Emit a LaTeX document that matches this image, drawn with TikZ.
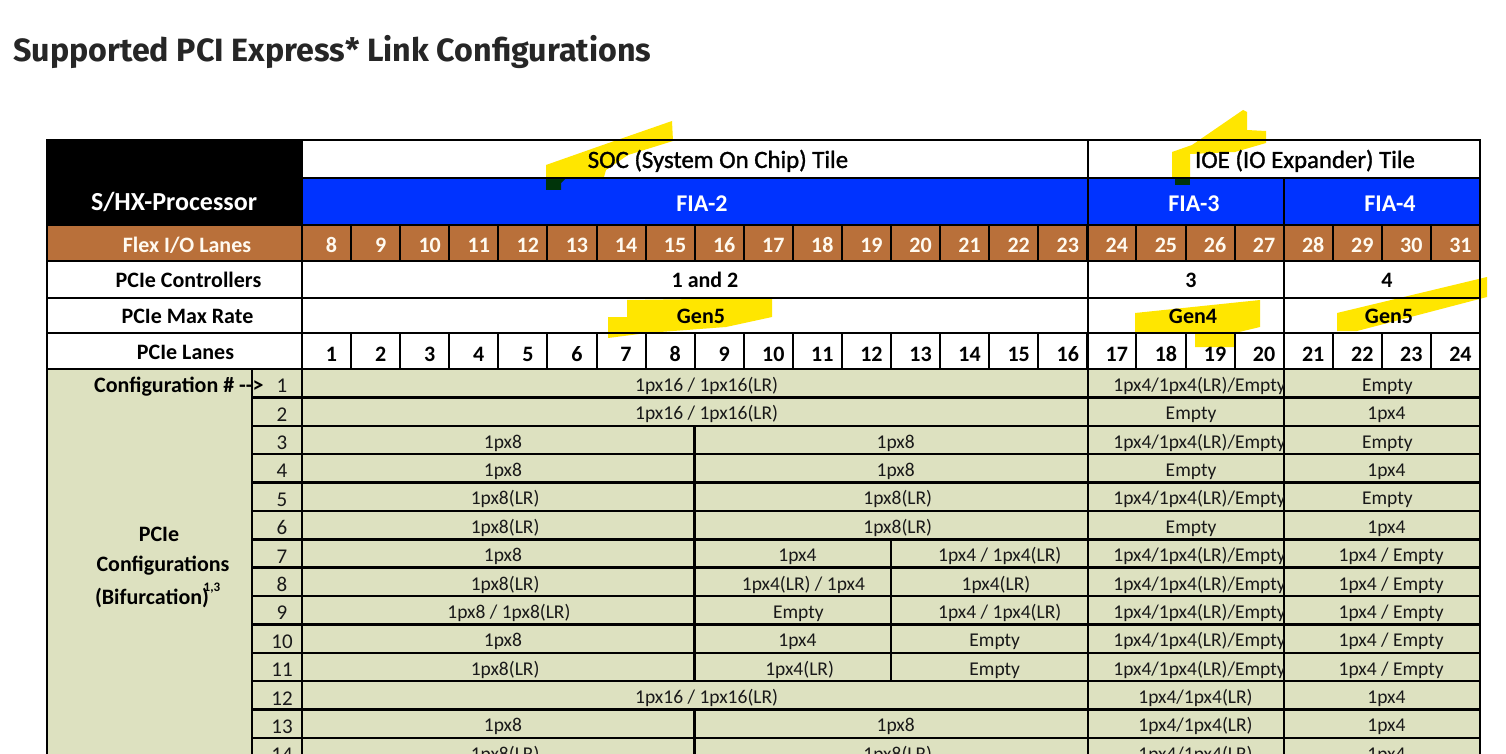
\documentclass[tikz,border=0pt]{standalone}
\usepackage{fontspec}
\setmainfont{Carlito}
\newfontfamily\titlefont{Fira Sans}
\newfontfamily\tilefont[FakeBold=1.2]{Carlito}
\usepackage{graphicx}
\definecolor{hdrblue}{RGB}{0,51,255}
\definecolor{flexbrown}{RGB}{185,112,58}
\definecolor{cfgbg}{RGB}{221,225,192}
\definecolor{hilite}{RGB}{255,230,0}
\definecolor{hidark}{RGB}{0,52,10}
\definecolor{titlegray}{RGB}{38,38,38}
\definecolor{celltext}{RGB}{25,25,25}
\definecolor{flextext}{RGB}{255,250,240}
\newbox\cfgbox
\newcommand\cfgfont{\fontsize{19.5}{22}\selectfont}
\newcommand\defw[1]{\setbox\cfgbox\hbox{\normalfont\cfgfont #1}\expandafter\xdef\csname cfgw@#1\endcsname{\the\wd\cfgbox}}
\AtBeginDocument{%
  \defw{1px16 / 1px16(LR)}\defw{Empty}\defw{1px4}\defw{1px8}\defw{1px8(LR)}%
  \defw{1px4 / 1px4(LR)}\defw{1px4 / Empty}\defw{1px4(LR) / 1px4}\defw{1px4(LR)}%
  \defw{1px8 / 1px8(LR)}\defw{1px4/1px4(LR)}\defw{1px4/1px4(LR)/Empty}}
\def\cw{49.083}
\def\rh{28.38}
\newcommand\cfg[4]{%
  \pgfmathsetmacro\cfgx{302+(#1-1+#2)*\cw/2+2+0.07*\csname cfgw@#4\endcsname}%
  \node[cfgtxt] (c#3-#1) at (\cfgx,{369+(#3-0.5)*\rh+2}) {#4};}
\tikzset{
  tl/.style={line width=2.5pt, draw=black},
  tlthin/.style={line width=2pt, draw=black},
  cfgtxt/.style={inner sep=0pt, anchor=center, text height=12.4pt, text depth=0pt, font=\cfgfont, text=celltext},
  hdr/.style={inner sep=0pt, anchor=center, text height=14pt, text depth=0pt, font=\fontsize{22}{26}\selectfont\bfseries},
  tilelbl/.style={inner sep=0pt, anchor=center, text height=15.9pt, text depth=0pt, font=\tilefont\fontsize{24.8}{28}\selectfont},
  fialbl/.style={inner sep=0pt, anchor=center, text height=15.3pt, text depth=0pt, font=\fontsize{24}{28}\selectfont\bfseries, text=white},
  flexnum/.style={hdr, text=flextext},
  cfgnum/.style={inner sep=0pt, anchor=center, text height=13.3pt, text depth=0pt, font=\fontsize{21}{24}\selectfont, text=celltext},
  hilight/.style={fill=hilite, draw=none},
}
\begin{document}
\begin{tikzpicture}[x=1pt,y=-1pt]
\useasboundingbox (0,0) rectangle (1506,754);
\begin{scope}
\clip (0,0) rectangle (1506,754);
\fill[white] (0,0) rectangle (1506,754);
% title
\node[anchor=base west, inner sep=0pt, text=titlegray] (title) at (13,62)
  {\resizebox{638pt}{!}{\titlefont\bfseries Supported PCI Express* Link Configurations}};
% fills
\fill[black] (47,140) rectangle (302,225);
\fill[hdrblue] (302,178) rectangle (1480,225);
\fill[flexbrown] (47,225) rectangle (1480,261);
\fill[cfgbg] (47,369) rectangle (1480,770);
% highlighter marks
\fill[hilight] (546,177) -- (546,165) -- (600,146) -- (672,121) -- (673,141) -- (628,155) -- (606,170) -- (604,177) -- cycle;
\fill[hidark] (546,178) -- (566,178) -- (561,183) -- (561,190) -- (546,190) -- cycle;
\fill[hilight] (1172,177) -- (1172,152) -- (1192,145) -- (1243,110) -- (1247,112) -- (1247,130) -- (1266,131) -- (1266,143) -- (1235,152) -- (1190,154) -- (1190,177) -- cycle;
\fill[hidark] (1175,178) rectangle (1190,185);
\fill[hilight] (608,337) -- (608,317) -- (627,317) -- (627,300) -- (772,298) -- (772,317) -- (726,327) -- (647,333) -- (608,338) -- cycle;
\fill[hilight] (1135,332) -- (1135,313) -- (1260,300) -- (1260,327) -- (1235,333) -- (1235,347) -- (1195,347) -- (1195,333) -- cycle;
\fill[hilight] (1337,331) -- (1337,313) -- (1487,277) -- (1487,297) -- (1357,331) -- cycle;
% lines
\foreach \i in {1,...,23} {
  \draw[tlthin] ({302+\i*\cw},225) -- ({302+\i*\cw},261);
  \draw[tlthin] ({302+\i*\cw},333) -- ({302+\i*\cw},369);
}
\draw[tl] (302,178) -- (1480,178);
\foreach \yy in {225,261,298,333,369} { \draw[tl] (47,\yy) -- (1480,\yy); }
\foreach \k in {1,...,13} { \draw[tl] (252,{369+\k*\rh}) -- (1480,{369+\k*\rh}); }
\draw[tl] (302,140) -- (302,770);
\draw[tl] (252,369) -- (252,770);
\draw[tl] (1088,140) -- (1088,770);
\draw[tl] (1284,178) -- (1284,770);
\draw[tl] ({302+8*\cw},{369+2*\rh}) -- ({302+8*\cw},{369+11*\rh});
\draw[tl] ({302+8*\cw},{369+12*\rh}) -- ({302+8*\cw},770);
\draw[tl] ({302+12*\cw},{369+6*\rh}) -- ({302+12*\cw},{369+11*\rh});
\draw[line width=2.8pt] (47,140) rectangle (1480,770);
% header texts
\node[inner sep=0pt, anchor=center, text height=16.6pt, text depth=0pt, font=\fontsize{26}{30}\selectfont\bfseries, text=white] (proc) at (174,202) {S/HX-Processor};
\node[flexnum] (flexlbl) at (187,245) {Flex I/O Lanes};
\node[hdr] (ctrllbl) at (188.5,280) {PCIe Controllers};
\node[hdr] (ratelbl) at (187.5,316) {PCIe Max Rate};
\node[hdr] (lanelbl) at (185.5,352.5) {PCIe Lanes};
\node[tilelbl] (soc) at (718,160) {SOC (System On Chip) Tile};
\node[tilelbl] (ioe) at (1305,160) {IOE (IO Expander) Tile};
\node[fialbl] (fia2) at (702,204) {FIA-2};
\node[fialbl] (fia3) at (1194,204) {FIA-3};
\node[fialbl] (fia4) at (1390,204) {FIA-4};
\foreach \i in {1,...,24} {
  \pgfmathtruncatemacro\f{\i+7}
  \node[flexnum] (fl\i) at ({302+(\i-0.5)*\cw+5},245.5) {\f};
  \node[hdr] (ln\i) at ({302+(\i-0.5)*\cw+5},354) {\i};
}
\node[hdr] (ctrl12) at (705,280) {1 and 2};
\node[hdr] (ctrl3) at (1191,280) {3};
\node[hdr] (ctrl4) at (1387,280) {4};
\node[hdr] (gena) at (701,316) {Gen5};
\node[hdr] (genb) at (1193,316) {Gen4};
\node[hdr] (genc) at (1389,316) {Gen5};
% left labels of configuration area
\node[hdr, anchor=west] (cfglbl) at (94,385.5) {Configuration \# {-}{-}>};
\node[hdr] (bif1) at (159,534) {PCIe};
\node[hdr] (bif2) at (163,564) {Configurations};
\node[hdr] (bif3) at (152,597.5) {(Bifurcation)};
\node[inner sep=0pt, anchor=center, font=\fontsize{13}{15}\selectfont\bfseries] (bifsup) at (212,588) {1,3};
\foreach \k in {1,...,14} {
  \node[cfgnum] (n\k) at (282,{369+(\k-0.5)*\rh+3}) {\k};
}
% configuration cells
\cfg{1}{16}{1}{1px16 / 1px16(LR)}
\cfg{21}{24}{1}{Empty}
\cfg{1}{16}{2}{1px16 / 1px16(LR)}
\cfg{17}{20}{2}{Empty}
\cfg{21}{24}{2}{1px4}
\cfg{1}{8}{3}{1px8}
\cfg{9}{16}{3}{1px8}
\cfg{21}{24}{3}{Empty}
\cfg{1}{8}{4}{1px8}
\cfg{9}{16}{4}{1px8}
\cfg{17}{20}{4}{Empty}
\cfg{21}{24}{4}{1px4}
\cfg{1}{8}{5}{1px8(LR)}
\cfg{9}{16}{5}{1px8(LR)}
\cfg{21}{24}{5}{Empty}
\cfg{1}{8}{6}{1px8(LR)}
\cfg{9}{16}{6}{1px8(LR)}
\cfg{17}{20}{6}{Empty}
\cfg{21}{24}{6}{1px4}
\cfg{1}{8}{7}{1px8}
\cfg{9}{12}{7}{1px4}
\cfg{13}{16}{7}{1px4 / 1px4(LR)}
\cfg{21}{24}{7}{1px4 / Empty}
\cfg{1}{8}{8}{1px8(LR)}
\cfg{9}{12}{8}{1px4(LR) / 1px4}
\cfg{13}{16}{8}{1px4(LR)}
\cfg{21}{24}{8}{1px4 / Empty}
\cfg{1}{8}{9}{1px8 / 1px8(LR)}
\cfg{9}{12}{9}{Empty}
\cfg{13}{16}{9}{1px4 / 1px4(LR)}
\cfg{21}{24}{9}{1px4 / Empty}
\cfg{1}{8}{10}{1px8}
\cfg{9}{12}{10}{1px4}
\cfg{13}{16}{10}{Empty}
\cfg{21}{24}{10}{1px4 / Empty}
\cfg{1}{8}{11}{1px8(LR)}
\cfg{9}{12}{11}{1px4(LR)}
\cfg{13}{16}{11}{Empty}
\cfg{21}{24}{11}{1px4 / Empty}
\cfg{1}{16}{12}{1px16 / 1px16(LR)}
\cfg{17}{20}{12}{1px4/1px4(LR)}
\cfg{21}{24}{12}{1px4}
\cfg{1}{8}{13}{1px8}
\cfg{9}{16}{13}{1px8}
\cfg{17}{20}{13}{1px4/1px4(LR)}
\cfg{21}{24}{13}{1px4}
\cfg{1}{8}{14}{1px8(LR)}
\cfg{9}{16}{14}{1px8(LR)}
\cfg{17}{20}{14}{1px4/1px4(LR)}
\cfg{21}{24}{14}{1px4}
\begin{scope}
\clip (1088,369) rectangle (1283,770);
\foreach \k in {1,3,5,7,8,9,10,11} { \cfg{17}{20}{\k}{1px4/1px4(LR)/Empty} }
\end{scope}
\end{scope}
\end{tikzpicture}
\end{document}
